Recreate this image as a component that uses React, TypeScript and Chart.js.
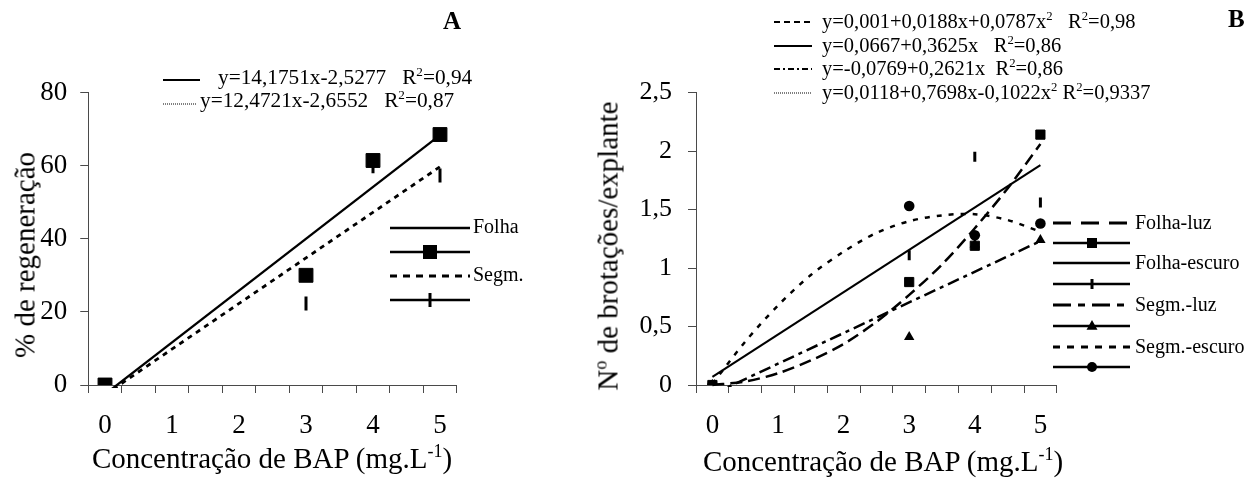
import React, { useEffect, useRef } from "react";
import { Chart, registerables } from "chart.js";
Chart.register(...registerables);

const FONT = "'Liberation Serif', 'Times New Roman', Times, serif";
const AXIS = "#4a4a4a";
const H = 481;

// ---------- Panel A data ----------
const aConc = [0, 3, 4, 5];
const aFolha = [0, 30.0, 61.4, 68.5];
const aSegm = [0, 22.3, 59.8, 57.3];
const aTrendX = [0, 5];
const aFolhaTrend = [-2.53, 68.35];
const aSegmTrend = [-2.66, 59.7];
const aYTickLabels = ["0", "20", "40", "60", "80"];

// ---------- shared x axis ----------
const xTickValues = [-0.25, 0, 0.25, 0.5, 0.75, 1, 1.25, 1.5, 1.75, 2, 2.25, 2.5, 2.75, 3, 3.25, 3.5, 3.75, 4, 4.25, 4.5, 4.75, 5, 5.25];
const xTickLabels = ["0", "1", "2", "3", "4", "5"];

// ---------- Panel B data ----------
const bConc = [0, 3, 4, 5];
const bFolhaLuz = [0, 0.88, 1.19, 2.14];
const bFolhaEscuro = [0, 1.11, 1.95, 1.56];
const bSegmLuz = [0, 0.41, 1.2, 1.24];
const bSegmEscuro = [0, 1.53, 1.28, 1.38];
const bCurveX = [0, 0.5, 1, 1.5, 2, 2.5, 3, 3.5, 4, 4.5, 5];
const bFolhaLuzTrend = [0.0, 0.03, 0.1, 0.21, 0.35, 0.54, 0.77, 1.03, 1.34, 1.68, 2.06];
const bSegmEscuroTrend = [0.01, 0.37, 0.68, 0.94, 1.14, 1.3, 1.4, 1.45, 1.46, 1.41, 1.31];
const bLineX = [0, 5];
const bFolhaEscuroTrend = [0.07, 1.88];
const bSegmLuzTrend = [-0.08, 1.23];
const bYTickLabels = ["0", "0,5", "1", "1,5", "2", "2,5"];

const pts = (xs: number[], ys: number[]) => xs.map((x, i) => ({ x, y: ys[i] }));

function xScale(labelSize: number, pad: number) {
  return {
    type: "linear",
    min: -0.25,
    max: 5.25,
    afterBuildTicks: (s: any) => {
      s.ticks = xTickValues.map((v) => ({ value: v }));
    },
    ticks: {
      autoSkip: false,
      maxRotation: 0,
      minRotation: 0,
      padding: pad,
      color: "#000",
      font: { family: FONT, size: labelSize },
      callback: (v: number) => {
        const k = Math.round(v * 4);
        return k >= 0 && k % 4 === 0 ? xTickLabels[k / 4] : "";
      },
    },
    grid: {
      drawOnChartArea: false,
      drawTicks: true,
      tickLength: 8,
      lineWidth: 1,
      color: (c: any) => {
        const v = c.tick ? c.tick.value : 0;
        return Math.abs(Math.round(v * 4)) % 2 === 1 ? AXIS : "rgba(0,0,0,0)";
      },
    },
    border: { display: true, color: AXIS, width: 1 },
    afterFit: (s: any) => {
      s.height = 96;
    },
  };
}

function yScale(max: number, step: number, labels: string[], width: number, pad: number, size: number) {
  return {
    type: "linear",
    min: 0,
    max,
    ticks: {
      stepSize: step,
      padding: pad,
      color: "#000",
      font: { family: FONT, size },
      callback: (v: number) => labels[Math.round(v / step)],
    },
    grid: { drawOnChartArea: false, drawTicks: true, tickLength: 8, lineWidth: 1, color: AXIS },
    border: { display: true, color: AXIS, width: 1 },
    afterFit: (s: any) => {
      s.width = width;
    },
  };
}

const common = {
  animation: false,
  responsive: false,
  devicePixelRatio: 1,
  events: [],
  plugins: { legend: { display: false }, tooltip: { enabled: false } },
};

function makeA(): any {
  return {
    type: "scatter",
    data: {
      datasets: [
        {
          label: "Folha",
          data: pts(aConc, aFolha),
          pointStyle: "rect",
          pointRadius: 9.8,
          pointBackgroundColor: "#000",
          pointBorderColor: "#000",
          pointBorderWidth: 1,
        },
        {
          label: "Segm.",
          data: pts(aConc, aSegm),
          pointStyle: "line",
          pointRotation: 90,
          pointRadius: 7,
          pointBorderColor: "#000",
          pointBorderWidth: 3,
        },
        {
          label: "Folha trend",
          data: pts(aTrendX, aFolhaTrend),
          showLine: true,
          borderColor: "#000",
          borderWidth: 2.3,
          pointRadius: 0,
          clip: 3,
        },
        {
          label: "Segm. trend",
          data: pts(aTrendX, aSegmTrend),
          showLine: true,
          borderColor: "#000",
          borderWidth: 2.8,
          borderDash: [5, 5],
          pointRadius: 0,
          clip: 3,
        },
      ],
    },
    options: {
      ...common,
      layout: { padding: { left: 0, right: 63.25, top: 92.5, bottom: 0 } },
      scales: {
        x: xScale(27, 17),
        y: yScale(80, 20, aYTickLabels, 88.25, 13, 27),
      },
    },
  };
}

function makeB(): any {
  return {
    type: "scatter",
    data: {
      datasets: [
        {
          label: "Folha-luz",
          data: pts(bConc, bFolhaLuz),
          pointStyle: "rect",
          pointRadius: 6.5,
          pointBackgroundColor: "#000",
          pointBorderColor: "#000",
          pointBorderWidth: 1,
        },
        {
          label: "Folha-escuro",
          data: pts(bConc, bFolhaEscuro),
          pointStyle: "line",
          pointRotation: 90,
          pointRadius: 5,
          pointBorderColor: "#000",
          pointBorderWidth: 3,
        },
        {
          label: "Segm.-luz",
          data: pts(bConc, bSegmLuz),
          pointStyle: "triangle",
          pointRadius: 6,
          pointBackgroundColor: "#000",
          pointBorderColor: "#000",
          pointBorderWidth: 0,
        },
        {
          label: "Segm.-escuro",
          data: pts(bConc, bSegmEscuro),
          pointStyle: "circle",
          pointRadius: 5.3,
          pointBackgroundColor: "#000",
          pointBorderColor: "#000",
          pointBorderWidth: 0,
        },
        {
          label: "Folha-luz trend",
          data: pts(bCurveX, bFolhaLuzTrend),
          showLine: true,
          tension: 0.3,
          borderColor: "#000",
          borderWidth: 2.5,
          borderDash: [12, 6],
          pointRadius: 0,
          clip: 3,
        },
        {
          label: "Folha-escuro trend",
          data: pts(bLineX, bFolhaEscuroTrend),
          showLine: true,
          borderColor: "#000",
          borderWidth: 2.1,
          pointRadius: 0,
          clip: 3,
        },
        {
          label: "Segm.-luz trend",
          data: pts(bLineX, bSegmLuzTrend),
          showLine: true,
          borderColor: "#000",
          borderWidth: 2.5,
          borderDash: [12, 5, 4, 5],
          pointRadius: 0,
          clip: 2,
        },
        {
          label: "Segm.-escuro trend",
          data: pts(bCurveX, bSegmEscuroTrend),
          showLine: true,
          tension: 0.3,
          borderColor: "#000",
          borderWidth: 2.5,
          borderDash: [5, 7],
          pointRadius: 0,
          clip: 3,
        },
      ],
    },
    options: {
      ...common,
      layout: { padding: { left: 0, right: 199.2, top: 92.5, bottom: 0 } },
      scales: {
        x: xScale(27, 17),
        y: yScale(2.5, 0.5, bYTickLabels, 116, 16, 26),
      },
    },
  };
}

function ChartBox({ left, width, make }: { left: number; width: number; make: () => any }) {
  const ref = useRef<HTMLCanvasElement>(null);
  useEffect(() => {
    const chart = new Chart(ref.current as HTMLCanvasElement, make());
    return () => chart.destroy();
  }, []);
  return (
    <div style={{ position: "absolute", left, top: 0, width, height: H }}>
      <canvas ref={ref} width={width} height={H} style={{ width, height: H, display: "block" }} />
    </div>
  );
}

const Sup = ({ children }: { children: any }) => (
  <span style={{ fontSize: "0.62em", position: "relative", top: "-0.6em" }}>{children}</span>
);

function T({ x, y, size, children, bold }: { x: number; y: number; size: number; children: any; bold?: boolean }) {
  return (
    <div
      style={{
        position: "absolute",
        left: x,
        top: y,
        transform: "translateY(-50%)",
        fontFamily: FONT,
        fontSize: size,
        lineHeight: 1,
        whiteSpace: "pre",
        fontWeight: bold ? "bold" : "normal",
        color: "#000",
      }}
    >
      {children}
    </div>
  );
}

function CT({ x, y, size, children, rotate }: { x: number; y: number; size: number; children: any; rotate?: boolean }) {
  return (
    <div
      style={{
        position: "absolute",
        left: x,
        top: y,
        transform: rotate ? "translate(-50%,-50%) rotate(-90deg)" : "translate(-50%,-50%)",
        fontFamily: FONT,
        fontSize: size,
        lineHeight: 1,
        whiteSpace: "pre",
        color: "#000",
      }}
    >
      {children}
    </div>
  );
}

type Mk = "none" | "square" | "tick" | "triangle" | "circle";
function LL({ x1, x2, y, dash, w, mk, mx, ms }: { x1: number; x2: number; y: number; dash?: string; w: number; mk?: Mk; mx?: number; ms?: number }) {
  const len = x2 - x1;
  const cx = mx !== undefined ? mx - x1 : len / 2;
  const s = ms || 10;
  let marker: any = null;
  if (mk === "square") marker = <rect x={cx - s / 2} y={12 - s / 2} width={s} height={s} fill="#000" />;
  if (mk === "tick") marker = <line x1={cx} y1={12 - s / 2} x2={cx} y2={12 + s / 2} stroke="#000" strokeWidth={3} />;
  if (mk === "circle") marker = <circle cx={cx} cy={12} r={s / 2} fill="#000" />;
  if (mk === "triangle") {
    const h = s * 0.87;
    marker = <polygon points={`${cx},${12 - h * 0.62} ${cx - s / 2},${12 + h * 0.38} ${cx + s / 2},${12 + h * 0.38}`} fill="#000" />;
  }
  return (
    <svg style={{ position: "absolute", left: x1, top: y - 12, overflow: "visible" }} width={len} height={24}>
      <line x1={0} y1={12} x2={len} y2={12} stroke="#000" strokeWidth={w} strokeDasharray={dash} />
      {marker}
    </svg>
  );
}

export default function App() {
  return (
    <div style={{ position: "fixed", left: 0, top: 0, width: 1256, height: H, background: "#fff", overflow: "hidden" }}>
      <ChartBox left={0} width={520} make={makeA} />
      <ChartBox left={580} width={676} make={makeB} />

      {/* Panel A texts */}
      <T x={443} y={20} size={25} bold>A</T>
      <LL x1={163} x2={200} y={80} w={2} />
      <T x={218} y={78} size={21.3}>
        {"y=14,1751x-2,5277   R"}<Sup>2</Sup>{"=0,94"}
      </T>
      <LL x1={163} x2={197} y={104} w={1.2} dash="1 1" />
      <T x={200} y={101} size={21.3}>
        {"y=12,4721x-2,6552   R"}<Sup>2</Sup>{"=0,87"}
      </T>

      <LL x1={390} x2={470} y={228} w={2.6} />
      <T x={473} y={226} size={20}>Folha</T>
      <LL x1={390} x2={470} y={252} w={2.6} mk="square" mx={430} ms={14} />
      <LL x1={390} x2={470} y={276} w={3} dash="7 6" />
      <T x={473} y={274} size={20}>Segm.</T>
      <LL x1={390} x2={470} y={300} w={2.6} mk="tick" mx={430} ms={14} />

      <CT x={25} y={255} size={29} rotate>% de regeneração</CT>
      <CT x={272} y={458} size={29}>
        {"Concentração de BAP (mg.L"}<Sup>-1</Sup>{")"}
      </CT>

      {/* Panel B texts */}
      <T x={1228} y={18} size={25} bold>B</T>
      <LL x1={774} x2={812} y={22} w={2} dash="6 4" />
      <T x={822} y={21} size={20.5}>
        {"y=0,001+0,0188x+0,0787x"}<Sup>2</Sup>{"   R"}<Sup>2</Sup>{"=0,98"}
      </T>
      <LL x1={774} x2={812} y={45.5} w={2} />
      <T x={822} y={44.5} size={20.5}>
        {"y=0,0667+0,3625x   R"}<Sup>2</Sup>{"=0,86"}
      </T>
      <LL x1={774} x2={812} y={69} w={2} dash="6 3 2 3" />
      <T x={822} y={68} size={20.5}>
        {"y=-0,0769+0,2621x  R"}<Sup>2</Sup>{"=0,86"}
      </T>
      <LL x1={774} x2={812} y={92.5} w={1.2} dash="1 1" />
      <T x={822} y={91.5} size={20.5}>
        {"y=0,0118+0,7698x-0,1022x"}<Sup>2</Sup>{" R"}<Sup>2</Sup>{"=0,9337"}
      </T>

      <LL x1={1053} x2={1130} y={223} w={3} dash="18 10" />
      <T x={1135} y={222} size={20}>Folha-luz</T>
      <LL x1={1053} x2={1130} y={243} w={2.6} mk="square" mx={1092} ms={10} />
      <LL x1={1053} x2={1130} y={263} w={2.6} />
      <T x={1135} y={262} size={20}>Folha-escuro</T>
      <LL x1={1053} x2={1130} y={284} w={2.6} mk="tick" mx={1092} ms={10} />
      <LL x1={1053} x2={1130} y={305} w={3} dash="18 7 7 7" />
      <T x={1135} y={304} size={20}>Segm.-luz</T>
      <LL x1={1053} x2={1130} y={326} w={2.6} mk="triangle" mx={1092} ms={11} />
      <LL x1={1053} x2={1130} y={347} w={3} dash="7 7" />
      <T x={1135} y={346} size={20}>Segm.-escuro</T>
      <LL x1={1053} x2={1130} y={367} w={2.6} mk="circle" mx={1092} ms={10} />

      <CT x={608} y={246} size={29} rotate>
        {"N"}<Sup>o</Sup>{" de brotações/explante"}
      </CT>
      <CT x={883} y={461} size={29}>
        {"Concentração de BAP (mg.L"}<Sup>-1</Sup>{")"}
      </CT>
    </div>
  );
}
